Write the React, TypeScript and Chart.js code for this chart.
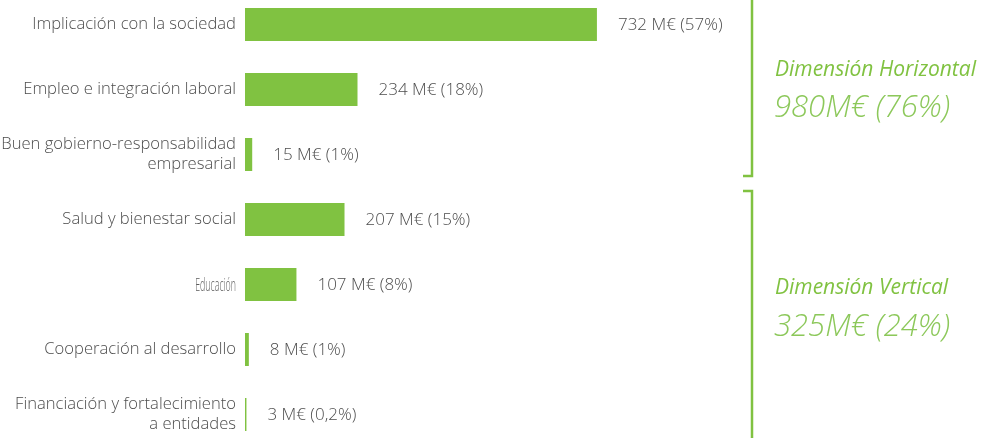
import React, { useEffect, useRef } from "react";
import { Chart, registerables } from "chart.js";

Chart.register(...registerables);

const categories: (string | string[])[] = [
  "Implicación con la sociedad",
  "Empleo e integración laboral",
  ["Buen gobierno-responsabilidad", "empresarial"],
  "Salud y bienestar social",
  "Educación",
  "Cooperación al desarrollo",
  ["Financiación y fortalecimiento", "a entidades"],
];
const values = [732, 234, 15, 207, 107, 8, 3];
const valueLabels = [
  "732 M€ (57%)",
  "234 M€ (18%)",
  "15 M€ (1%)",
  "207 M€ (15%)",
  "107 M€ (8%)",
  "8 M€ (1%)",
  "3 M€ (0,2%)",
];
const groupTitles = ["Dimensión Horizontal", "Dimensión Vertical"];
const groupTotals = ["980M€ (76%)", "325M€ (24%)"];
const groupRanges = [
  [0, 2],
  [3, 6],
];
const condensedIndex = 4; // "Educación" is set in a condensed face in the original

const GREEN = "#80c241";
const TEXT = "#4d4d4d";
const FONT = "'Open Sans', 'Noto Sans', sans-serif";

const annotations = {
  id: "annotations",
  afterDatasetsDraw(chart: any) {
    const ctx = chart.ctx;
    const meta = chart.getDatasetMeta(0);
    const yScale = chart.scales.y;
    ctx.save();
    // condensed category label
    {
      const lbl = categories[condensedIndex] as string;
      const y = yScale.getPixelForValue(condensedIndex);
      ctx.font = `300 18px ${FONT}`;
      ctx.fillStyle = "#5a5a5a";
      ctx.textAlign = "right";
      ctx.textBaseline = "middle";
      ctx.save();
      ctx.translate(236, y + 1);
      ctx.scale(0.49, 1);
      ctx.fillText(lbl, 0, 0);
      ctx.restore();
    }
    // value labels
    ctx.font = `300 17px ${FONT}`;
    ctx.fillStyle = TEXT;
    ctx.textAlign = "left";
    ctx.textBaseline = "middle";
    meta.data.forEach((bar: any, i: number) => {
      ctx.fillText(valueLabels[i], bar.x + 21, bar.y + 1);
    });
    // brackets
    const bx = 752;
    ctx.strokeStyle = GREEN;
    ctx.lineWidth = 2.5;
    const g0end = yScale.getPixelForValue(groupRanges[0][1]) + 21.5;
    const g1start = yScale.getPixelForValue(groupRanges[1][0]) - 28.5;
    ctx.beginPath();
    ctx.moveTo(bx, 0);
    ctx.lineTo(bx, g0end);
    ctx.lineTo(bx - 9, g0end);
    ctx.stroke();
    ctx.beginPath();
    ctx.moveTo(bx - 9, g1start);
    ctx.lineTo(bx, g1start);
    ctx.lineTo(bx, chart.height);
    ctx.stroke();
    // group texts
    const anchors = [
      yScale.getPixelForValue(1),
      (yScale.getPixelForValue(4) + yScale.getPixelForValue(5)) / 2,
    ];
    const titleOff = [-19.5, -29];
    const totalOff = [18.5, 10];
    ctx.textAlign = "left";
    ctx.textBaseline = "middle";
    groupTitles.forEach((t, i) => {
      ctx.fillStyle = GREEN;
      ctx.font = `italic 400 21px ${FONT}`;
      ctx.fillText(t, 775, anchors[i] + titleOff[i]);
      ctx.font = `italic 300 31px ${FONT}`;
      ctx.fillStyle = "#8cc85a";
      ctx.fillText(groupTotals[i], 774, anchors[i] + totalOff[i]);
    });
    ctx.restore();
  },
};

export default function App() {
  const ref = useRef<HTMLCanvasElement>(null);
  useEffect(() => {
    if (!ref.current) return;
    const chart = new Chart(ref.current, {
      type: "bar",
      data: {
        labels: categories as any,
        datasets: [
          {
            data: values,
            backgroundColor: GREEN,
            borderWidth: 0,
            barPercentage: 33 / 65,
            categoryPercentage: 1,
          },
        ],
      },
      options: {
        indexAxis: "y",
        responsive: false,
        animation: false,
        devicePixelRatio: 1,
        layout: { padding: { left: 0, right: 250, top: 0, bottom: 0 } },
        plugins: { legend: { display: false }, tooltip: { enabled: false } },
        scales: {
          x: { display: false, min: 0, max: 1040 },
          y: {
            grid: { display: false, drawTicks: false },
            border: { display: false },
            afterFit: (scale: any) => {
              scale.width = 245;
              scale.paddingTop = 0;
              scale.paddingBottom = 0;
            },
            ticks: {
              padding: 9,
              color: (c: any) => (c.index === condensedIndex ? "rgba(0,0,0,0)" : TEXT),
              font: { family: FONT, size: 16.6, weight: "300", lineHeight: 1.18 },
            },
          },
        },
      },
      plugins: [annotations],
    });
    return () => chart.destroy();
  }, []);
  return (
    <div
      style={{
        position: "fixed",
        left: 0,
        top: 0,
        width: 995,
        height: 438,
        overflow: "hidden",
        background: "#fff",
      }}
    >
      <canvas
        ref={ref}
        width={995}
        height={455}
        style={{ position: "absolute", left: 0, top: -8, width: 995, height: 455 }}
      />
    </div>
  );
}
